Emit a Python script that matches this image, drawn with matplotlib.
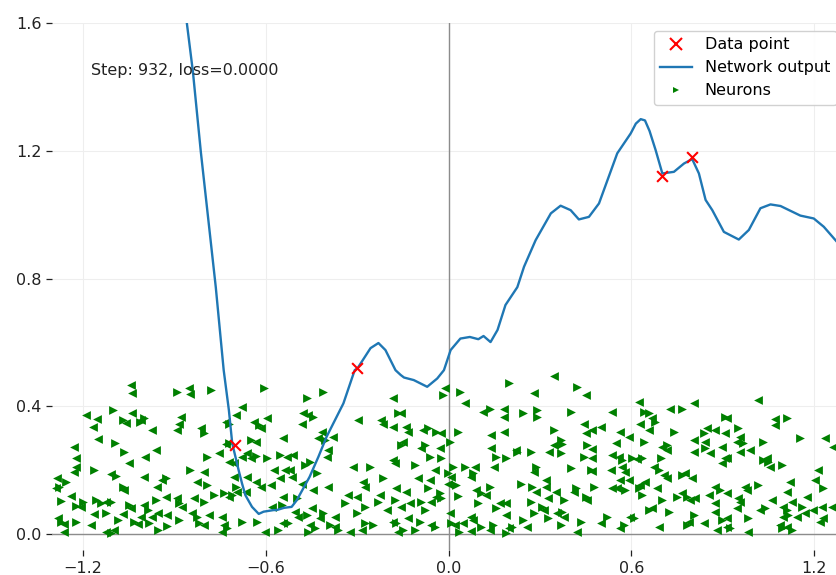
import matplotlib
matplotlib.use("Agg")
import matplotlib.pyplot as plt
from matplotlib.lines import Line2D

# Network output curve
curve_x = [-0.875, -0.859, -0.839, -0.813, -0.764, -0.738, -0.721, -0.710, -0.689, -0.678,
           -0.667, -0.645, -0.623, -0.607, -0.574, -0.564, -0.540, -0.515, -0.498, -0.456,
           -0.427, -0.400, -0.345, -0.308, -0.298, -0.256, -0.230, -0.207, -0.174, -0.157,
           -0.146, -0.114, -0.070, -0.037, -0.015, 0.007, 0.039, 0.070, 0.098, 0.115,
           0.138, 0.161, 0.187, 0.226, 0.248, 0.286, 0.336, 0.368, 0.401, 0.428,
           0.461, 0.494, 0.554, 0.598, 0.615, 0.631, 0.645, 0.660, 0.680, 0.702, 0.740, 0.773,
           0.800, 0.822, 0.844, 0.866, 0.904, 0.953, 0.986, 1.024, 1.057, 1.090,
           1.155, 1.199, 1.232, 1.275, 1.300]
curve_y = [1.72, 1.60, 1.447, 1.196, 0.773, 0.513, 0.388, 0.284, 0.200, 0.159,
           0.122, 0.085, 0.063, 0.070, 0.075, 0.075, 0.082, 0.085, 0.106, 0.179,
           0.242, 0.305, 0.409, 0.513, 0.520, 0.582, 0.598, 0.576, 0.513, 0.498,
           0.490, 0.482, 0.461, 0.487, 0.513, 0.576, 0.612, 0.617, 0.610, 0.620,
           0.601, 0.639, 0.717, 0.773, 0.837, 0.920, 1.004, 1.028, 1.014, 0.985,
           0.993, 1.035, 1.192, 1.254, 1.285, 1.299, 1.295, 1.262, 1.202, 1.129, 1.134, 1.160,
           1.174, 1.129, 1.046, 1.014, 0.946, 0.922, 0.952, 1.020, 1.032, 1.027,
           0.997, 0.988, 0.962, 0.915, 0.870]

# Data points
data_x = [-0.7, -0.3, 0.7, 0.8]
data_y = [0.28, 0.52, 1.12, 1.18]

# Neurons (right-pointing)
right_pts = [
    (-1.103, 0.388), (-1.070, 0.357), (-1.001, 0.362), (-1.012, 0.350), (-1.094, 0.286),
    (-1.065, 0.258), (-1.163, 0.200), (-1.092, 0.182), (-1.256, 0.164), (-1.278, 0.146),
    (-1.070, 0.148), (-1.272, 0.104), (-1.223, 0.088), (-1.201, 0.101), (-1.157, 0.108),
    (-1.141, 0.096), (-1.108, 0.101), (-1.125, 0.065), (-1.048, 0.091), (-0.988, 0.075),
    (-0.961, 0.106), (-1.272, 0.039), (-1.223, 0.039), (-1.086, 0.044), (-1.032, 0.039),
    (-0.983, 0.033), (-1.108, 0.004), (-0.955, 0.012),
    (-0.890, 0.446), (-0.781, 0.451), (-0.606, 0.456), (-0.803, 0.315), (-0.721, 0.346),
    (-0.623, 0.341), (-0.721, 0.284), (-0.650, 0.294), (-0.792, 0.242), (-0.633, 0.244),
    (-0.595, 0.237), (-0.847, 0.200), (-0.929, 0.174), (-0.792, 0.153), (-0.699, 0.148),
    (-0.737, 0.127), (-0.710, 0.122), (-0.770, 0.122), (-0.885, 0.096), (-0.803, 0.101),
    (-0.825, 0.054), (-0.885, 0.044), (-0.819, 0.033), (-0.726, 0.018), (-0.677, 0.039),
    (-0.628, 0.039), (-0.923, 0.025),
    (-0.466, 0.425), (-0.411, 0.446), (-0.444, 0.367), (-0.406, 0.294), (-0.553, 0.247),
    (-0.471, 0.216), (-0.455, 0.226), (-0.433, 0.190), (-0.258, 0.211), (-0.214, 0.174),
    (-0.498, 0.112), (-0.340, 0.096), (-0.274, 0.086), (-0.231, 0.101), (-0.548, 0.091),
    (-0.411, 0.065), (-0.466, 0.059), (-0.302, 0.065), (-0.526, 0.033), (-0.438, 0.018),
    (-0.389, 0.028), (-0.362, 0.012), (-0.274, 0.033), (-0.247, 0.028), (-0.559, 0.012),
    (-0.460, 0.007),
    (-0.018, 0.435), (0.037, 0.446), (-0.166, 0.380), (0.135, 0.393), (-0.067, 0.331),
    (-0.040, 0.320), (0.031, 0.320), (-0.155, 0.279), (-0.078, 0.279), (0.004, 0.289),
    (-0.062, 0.242), (-0.024, 0.237), (0.157, 0.242), (-0.111, 0.216), (0.015, 0.211),
    (0.053, 0.211), (0.080, 0.190), (-0.002, 0.190), (0.026, 0.153), (-0.067, 0.143),
    (-0.029, 0.127), (-0.024, 0.112), (0.108, 0.127), (0.135, 0.148), (-0.177, 0.107),
    (-0.089, 0.101), (0.031, 0.119), (0.097, 0.096), (-0.078, 0.075), (0.157, 0.080),
    (-0.171, 0.033), (-0.095, 0.039), (-0.045, 0.023), (0.009, 0.033), (0.108, 0.023),
    (0.146, 0.028), (-0.149, 0.012), (-0.111, 0.012), (0.036, 0.007),
    (0.199, 0.472), (0.423, 0.461), (0.243, 0.380), (0.292, 0.388), (0.292, 0.367),
    (0.401, 0.383), (0.346, 0.326), (0.368, 0.294), (0.374, 0.282), (0.456, 0.279),
    (0.226, 0.258), (0.270, 0.258), (0.368, 0.253), (0.445, 0.242), (0.188, 0.237),
    (0.286, 0.211), (0.401, 0.206), (0.467, 0.200), (0.237, 0.158), (0.275, 0.148),
    (0.417, 0.143), (0.478, 0.148), (0.379, 0.107), (0.450, 0.117), (0.270, 0.101),
    (0.308, 0.086), (0.374, 0.070), (0.281, 0.065), (0.243, 0.044), (0.325, 0.049),
    (0.434, 0.039), (0.521, 0.054), (0.368, 0.028), (0.210, 0.023), (0.188, 0.002),
    (0.767, 0.393), (0.641, 0.383), (0.657, 0.378), (0.679, 0.352), (0.909, 0.367),
    (0.739, 0.320), (0.838, 0.315), (0.641, 0.289), (0.717, 0.279), (0.843, 0.268),
    (0.570, 0.232), (0.603, 0.237), (0.635, 0.237), (0.696, 0.237), (0.690, 0.200),
    (0.767, 0.185), (0.625, 0.143), (0.581, 0.138), (0.750, 0.117), (0.783, 0.117),
    (0.892, 0.138), (0.635, 0.122), (0.701, 0.107), (0.657, 0.075), (0.723, 0.070),
    (0.805, 0.059), (0.608, 0.049), (0.575, 0.028), (0.783, 0.028), (0.898, 0.044),
    (1.110, 0.362), (0.952, 0.331), (0.968, 0.284), (1.034, 0.289), (1.154, 0.300),
    (1.034, 0.232), (1.050, 0.226), (1.094, 0.216), (1.017, 0.153), (1.230, 0.143),
    (1.039, 0.080), (1.110, 0.075), (1.159, 0.086), (0.984, 0.049), (1.116, 0.059),
    (0.924, 0.018), (1.094, 0.018), (1.127, 0.012),
]

# Neurons (left-pointing)
left_pts = [
    (-1.043, 0.466), (-1.039, 0.440), (-1.190, 0.373), (-1.155, 0.359), (-1.166, 0.336),
    (-1.059, 0.349), (-1.039, 0.378), (-1.010, 0.357), (-0.972, 0.326), (-1.152, 0.297),
    (-1.228, 0.273), (-0.961, 0.263), (-0.997, 0.240), (-1.223, 0.239), (-1.048, 0.221),
    (-1.223, 0.211), (-1.231, 0.195), (-1.108, 0.187), (-0.999, 0.180), (-1.285, 0.174),
    (-1.289, 0.143), (-1.065, 0.138), (-0.958, 0.146), (-0.939, 0.169), (-1.239, 0.119),
    (-1.207, 0.086), (-1.125, 0.101), (-1.163, 0.063), (-1.043, 0.080), (-1.070, 0.063),
    (-0.999, 0.091), (-0.955, 0.065), (-1.283, 0.049), (-1.261, 0.031), (-1.174, 0.028),
    (-1.019, 0.031), (-1.010, 0.054), (-1.125, 0.007), (-1.097, 0.012), (-1.261, 0.007),
    (-0.972, 0.054),
    (-0.852, 0.456), (-0.847, 0.438), (-0.677, 0.399), (-0.879, 0.367), (-0.885, 0.346),
    (-0.890, 0.326), (-0.814, 0.331), (-0.732, 0.352), (-0.699, 0.373), (-0.639, 0.352),
    (-0.617, 0.331), (-0.595, 0.362), (-0.732, 0.282), (-0.633, 0.289), (-0.661, 0.253),
    (-0.650, 0.237), (-0.754, 0.253), (-0.721, 0.226), (-0.704, 0.221), (-0.677, 0.242),
    (-0.573, 0.200), (-0.803, 0.195), (-0.704, 0.180), (-0.661, 0.180), (-0.633, 0.164),
    (-0.617, 0.148), (-0.584, 0.153), (-0.825, 0.164), (-0.694, 0.133), (-0.721, 0.117),
    (-0.666, 0.133), (-0.890, 0.112), (-0.874, 0.086), (-0.836, 0.112), (-0.929, 0.117),
    (-0.841, 0.065), (-0.786, 0.059), (-0.743, 0.054), (-0.923, 0.059), (-0.803, 0.028),
    (-0.737, 0.028), (-0.743, 0.007), (-0.601, 0.007), (-0.579, 0.086),
    (-0.477, 0.378), (-0.460, 0.373), (-0.482, 0.346), (-0.542, 0.300), (-0.416, 0.320),
    (-0.427, 0.300), (-0.378, 0.305), (-0.296, 0.357), (-0.220, 0.357), (-0.216, 0.346),
    (-0.395, 0.263), (-0.400, 0.242), (-0.531, 0.242), (-0.509, 0.247), (-0.520, 0.200),
    (-0.515, 0.180), (-0.537, 0.200), (-0.553, 0.174), (-0.482, 0.158), (-0.313, 0.211),
    (-0.280, 0.164), (-0.274, 0.148), (-0.395, 0.148), (-0.444, 0.138), (-0.542, 0.117),
    (-0.329, 0.122), (-0.302, 0.117), (-0.225, 0.122), (-0.449, 0.080), (-0.504, 0.070),
    (-0.493, 0.054), (-0.422, 0.049), (-0.373, 0.054), (-0.203, 0.075), (-0.542, 0.033),
    (-0.455, 0.028), (-0.373, 0.023), (-0.324, 0.007), (-0.285, 0.012),
    (-0.013, 0.456), (0.053, 0.409), (-0.182, 0.425), (-0.155, 0.378), (0.113, 0.383),
    (-0.182, 0.336), (-0.138, 0.336), (-0.133, 0.320), (-0.084, 0.326), (-0.024, 0.315),
    (0.140, 0.310), (-0.149, 0.289), (-0.089, 0.268), (-0.029, 0.268), (0.140, 0.268),
    (-0.182, 0.232), (-0.177, 0.221), (-0.045, 0.200), (0.086, 0.211), (0.075, 0.180),
    (0.151, 0.211), (-0.100, 0.174), (-0.062, 0.169), (0.009, 0.180), (-0.002, 0.158),
    (-0.171, 0.143), (-0.138, 0.133), (-0.040, 0.117), (0.091, 0.138), (0.124, 0.122),
    (-0.128, 0.096), (-0.056, 0.101), (0.168, 0.096), (-0.155, 0.086), (0.004, 0.065),
    (0.075, 0.054), (0.080, 0.044), (-0.182, 0.039), (-0.133, 0.049), (-0.056, 0.028),
    (0.020, 0.028), (0.047, 0.033), (-0.166, 0.007), (0.075, 0.010), (0.135, 0.012),
    (0.346, 0.495), (0.450, 0.435), (0.281, 0.440), (0.182, 0.393), (0.182, 0.367),
    (0.538, 0.383), (0.445, 0.346), (0.472, 0.326), (0.499, 0.334), (0.450, 0.315),
    (0.182, 0.320), (0.346, 0.279), (0.472, 0.265), (0.549, 0.284), (0.221, 0.263),
    (0.330, 0.258), (0.472, 0.237), (0.538, 0.247), (0.281, 0.195), (0.472, 0.198),
    (0.532, 0.200), (0.319, 0.169), (0.286, 0.133), (0.319, 0.148), (0.412, 0.133),
    (0.352, 0.133), (0.538, 0.143), (0.325, 0.112), (0.456, 0.107), (0.188, 0.096),
    (0.314, 0.075), (0.357, 0.065), (0.379, 0.054), (0.188, 0.059), (0.499, 0.033),
    (0.259, 0.023), (0.199, 0.018), (0.423, 0.007),
    (0.624, 0.414), (0.728, 0.393), (0.805, 0.409), (0.668, 0.362), (0.630, 0.346),
    (0.657, 0.326), (0.564, 0.320), (0.592, 0.305), (0.849, 0.331), (0.876, 0.326),
    (0.909, 0.315), (0.805, 0.294), (0.843, 0.289), (0.701, 0.273), (0.717, 0.263),
    (0.805, 0.258), (0.859, 0.253), (0.898, 0.273), (0.559, 0.242), (0.619, 0.234),
    (0.909, 0.237), (0.898, 0.221), (0.570, 0.211), (0.581, 0.195), (0.674, 0.211),
    (0.706, 0.185), (0.717, 0.174), (0.778, 0.190), (0.799, 0.174), (0.564, 0.169),
    (0.592, 0.169), (0.630, 0.153), (0.646, 0.164), (0.553, 0.143), (0.685, 0.143),
    (0.767, 0.127), (0.794, 0.107), (0.810, 0.112), (0.854, 0.122), (0.876, 0.148),
    (0.876, 0.096), (0.668, 0.080), (0.876, 0.070), (0.597, 0.054), (0.564, 0.018),
    (0.690, 0.023), (0.788, 0.039), (0.838, 0.033), (0.881, 0.012), (0.914, 0.023),
    (1.017, 0.420), (1.072, 0.359), (1.072, 0.341), (0.913, 0.362), (0.957, 0.305),
    (0.946, 0.289), (0.990, 0.263), (0.957, 0.258), (1.236, 0.300), (1.263, 0.273),
    (0.913, 0.237), (1.045, 0.237), (1.056, 0.211), (1.214, 0.200), (1.203, 0.169),
    (1.121, 0.164), (0.974, 0.148), (0.979, 0.138), (0.913, 0.127), (1.110, 0.133),
    (0.952, 0.112), (0.957, 0.101), (1.061, 0.107), (1.127, 0.101), (1.176, 0.117),
    (0.946, 0.080), (1.023, 0.075), (1.099, 0.086), (1.198, 0.075), (1.225, 0.086),
    (1.258, 0.086), (0.913, 0.049), (1.099, 0.054), (1.143, 0.054), (1.170, 0.065),
    (1.230, 0.049), (1.219, 0.039), (0.984, 0.007), (1.088, 0.028), (1.110, 0.023),
]

x_ticks = [-1.2, -0.6, 0.0, 0.6, 1.2]
y_ticks = [0.0, 0.4, 0.8, 1.2, 1.6]
annotation = "Step: 932, loss=0.0000"

FS = 11.5
W, H = 837, 575
fig = plt.figure(figsize=(W / 100, H / 100), dpi=100)
ax = fig.add_axes([52.5 / W, 25 / H, 792 / W, 527 / H])
ax.set_xlim(-1.3, 1.3)
ax.set_ylim(-0.05, 1.6)
ax.set_axisbelow(True)

for s in ax.spines.values():
    s.set_visible(False)
ax.grid(True, color="#eeeeee", linewidth=0.8)
ax.axhline(0, color="#8c8c8c", linewidth=1.0, zorder=1.5)
ax.axvline(0, color="#8c8c8c", linewidth=1.0, zorder=1.5)

ax.set_xticks(x_ticks)
ax.set_yticks(y_ticks)
ax.set_xticklabels([f"{v:.1f}".replace("-", "\u2212") for v in x_ticks])
ax.set_yticklabels([f"{v:.1f}" for v in y_ticks])
ax.tick_params(labelsize=FS, colors="#222222", length=4.5, width=0.9)

rx = [p[0] for p in right_pts]
ry = [p[1] for p in right_pts]
lx = [p[0] for p in left_pts]
ly = [p[1] for p in left_pts]
ax.scatter(rx, ry, marker=">", s=40, color="green", linewidths=0, zorder=2)
ax.scatter(lx, ly, marker="<", s=40, color="green", linewidths=0, zorder=2)

ax.plot(curve_x, curve_y, color="#1f77b4", linewidth=1.7, zorder=3)
ax.scatter(data_x, data_y, marker="x", s=60, color="red", linewidths=1.5, zorder=4)

ax.text(-1.174, 1.45, annotation, fontsize=FS, va="center", ha="left", color="#222222")

handles = [
    Line2D([], [], linestyle="none", marker="x", color="red", markersize=8, markeredgewidth=1.5),
    Line2D([], [], color="#1f77b4", linewidth=1.7),
    Line2D([], [], linestyle="none", marker=">", color="green", markersize=5, markeredgewidth=0),
]
ax.legend(handles, ["Data point", "Network output", "Neurons"], loc="upper right",
          fontsize=FS, framealpha=0.9, edgecolor="#cccccc",
          bbox_to_anchor=(1.0, 1.0))

fig.savefig("out.png", dpi=100)
